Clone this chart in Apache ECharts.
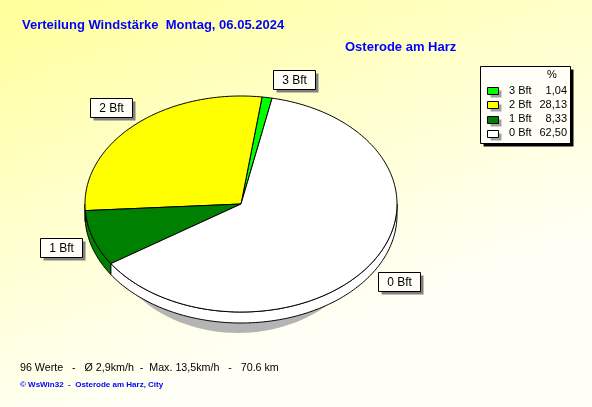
<!DOCTYPE html>
<html><head><meta charset="utf-8">
<script src="https://cdn.jsdelivr.net/npm/echarts@6/dist/echarts.min.js"></script>
<style>html,body{margin:0;padding:0;background:#fff}#c{width:592px;height:407px;}</style>
</head><body><div id="c"></div>
<script>
// ---- data ----
const categories = ['3 Bft', '2 Bft', '1 Bft', '0 Bft'];
const percents = [1.04, 28.13, 8.33, 62.50];
const colors = ['#00FF00', '#FFFF00', '#008000', '#FFFFFF'];
const legendHeader = '%';
const titleText = 'Verteilung Windstärke  Montag, 06.05.2024';
const stationText = 'Osterode am Harz';
const statsText = '96 Werte   -   Ø 2,9km/h  -  Max. 13,5km/h   -   70.6 km';
const footerText = '© WsWin32  -  Osterode am Harz, City';

// ---- layout ----
const CX = 241, CY = 204, RX = 156, RY = 108, DEPTH = 11, START = 78.5;
const FONT = '"Liberation Sans", Arial, sans-serif';
const total = percents.reduce((a, b) => a + b, 0);
const starts = [];
(function () { let acc = START; percents.forEach(v => { starts.push(acc); acc += v / total * 360; }); })();

function pt(t, dy) { const r = t * Math.PI / 180; return [CX + RX * Math.cos(r), CY - RY * Math.sin(r) + (dy || 0)]; }
function arcPts(a0, a1, dy) {
  const pts = []; const n = Math.max(2, Math.ceil(a1 - a0));
  for (let i = 0; i <= n; i++) pts.push(pt(a0 + (a1 - a0) * i / n, dy));
  return pts;
}

function renderItem(params, api) {
  const i = params.dataIndex;
  const a0 = starts[i], a1 = a0 + api.value(0) / total * 360;
  const children = [];
  for (let k = 0; k < 2; k++) {
    const s = Math.max(a0, 180 + 360 * k), e = Math.min(a1, 360 + 360 * k);
    if (e > s) {
      const top = arcPts(s, e, 0), bot = arcPts(s, e, DEPTH).reverse();
      children.push({ type: 'polygon', z2: 1, shape: { points: top.concat(bot) },
        style: { fill: colors[i], stroke: '#000', lineWidth: 1 } });
    }
  }
  children.push({ type: 'polygon', z2: 2, shape: { points: [[CX, CY]].concat(arcPts(a0, a1, 0)) },
    style: { fill: colors[i], stroke: '#000', lineWidth: 1 } });
  // label box
  const m = (a0 + a1) / 2 * Math.PI / 180;
  const c = Math.cos(m), s = Math.sin(m);
  const W = 42, H = 19;
  let lx = CX + RX * 1.22 * c;
  let ly = CY - RY * (s >= 0 ? 1.22 : 1.28) * s;
  if (Math.abs(c) < 0.3) { lx += (c >= 0 ? 1 : -1) * W / 2; ly += 5; }
  const bx = Math.round(lx - W / 2) + 0.5, by = Math.round(ly - H / 2) + 0.5;
  children.push({ type: 'rect', z2: 5, shape: { x: bx + 3, y: by + 3, width: W, height: H }, style: { fill: '#808080' } });
  children.push({ type: 'rect', z2: 6, shape: { x: bx, y: by, width: W, height: H }, style: { fill: '#FFFFF8', stroke: '#000', lineWidth: 1 } });
  children.push({ type: 'text', z2: 7, style: { x: bx + W / 2, y: by + H / 2 + 0.5, text: categories[i], fill: '#000',
    font: '12px ' + FONT, align: 'center', verticalAlign: 'middle' } });
  return { type: 'group', children };
}

// ---- legend and texts (built from arrays) ----
const graphics = [];
graphics.push({ type: 'ellipse', z: 1, silent: true, shape: { cx: 238, cy: 223, rx: 134, ry: 110 }, style: { fill: '#B4B4B4' } });
graphics.push({ type: 'rect', z: 10, shape: { x: 483.5, y: 69.5, width: 90, height: 77 }, style: { fill: '#000' } });
graphics.push({ type: 'rect', z: 11, shape: { x: 480.5, y: 66.5, width: 90, height: 77 }, style: { fill: '#FFFFF8', stroke: '#000', lineWidth: 1 } });
graphics.push({ type: 'text', z: 12, style: { x: 552, y: 75, text: legendHeader, font: '11px ' + FONT, fill: '#000', align: 'center', verticalAlign: 'middle' } });
categories.forEach((cat, i) => {
  const y = 90.5 + i * 14.3;
  const ry = Math.round(y - 3.5) + 0.5;
  graphics.push({ type: 'rect', z: 12, shape: { x: 490.5, y: ry + 3, width: 11, height: 7 }, style: { fill: '#A0A0A0' } });
  graphics.push({ type: 'rect', z: 13, shape: { x: 487.5, y: ry, width: 11, height: 7 }, style: { fill: colors[i], stroke: '#000', lineWidth: 1 } });
  graphics.push({ type: 'text', z: 13, style: { x: 509, y: y, text: cat, font: '11px ' + FONT, fill: '#000', align: 'left', verticalAlign: 'middle' } });
  graphics.push({ type: 'text', z: 13, style: { x: 567, y: y, text: percents[i].toFixed(2).replace('.', ','), font: '11px ' + FONT, fill: '#000', align: 'right', verticalAlign: 'middle' } });
});
graphics.push({ type: 'text', z: 13, style: { x: 22, y: 25, text: titleText, font: 'bold 13px ' + FONT, fill: '#0000FF', verticalAlign: 'middle' } });
graphics.push({ type: 'text', z: 13, style: { x: 345, y: 47, text: stationText, font: 'bold 13px ' + FONT, fill: '#0000FF', verticalAlign: 'middle' } });
graphics.push({ type: 'text', z: 13, style: { x: 20, y: 368, text: statsText, font: '10.7px ' + FONT, fill: '#000', verticalAlign: 'middle' } });
graphics.push({ type: 'text', z: 13, style: { x: 20, y: 385, text: footerText, font: 'bold 8px ' + FONT, fill: '#0000FF', verticalAlign: 'middle' } });

const chart = echarts.init(document.getElementById('c'), null, { renderer: 'canvas' });
chart.setOption({
  animation: false,
  backgroundColor: { type: 'linear', x: 0, y: 0, x2: 0.25, y2: 1,
    colorStops: [{ offset: 0, color: '#FFFF99' }, { offset: 0.5, color: '#FFFFCC' }, { offset: 1, color: '#FFFFF8' }] },
  graphic: { elements: graphics },
  series: [{
    type: 'custom', coordinateSystem: 'none', silent: true, z: 2,
    data: percents.map((v, i) => ({ name: categories[i], value: [v] })),
    renderItem: renderItem
  }]
});
</script></body></html>
